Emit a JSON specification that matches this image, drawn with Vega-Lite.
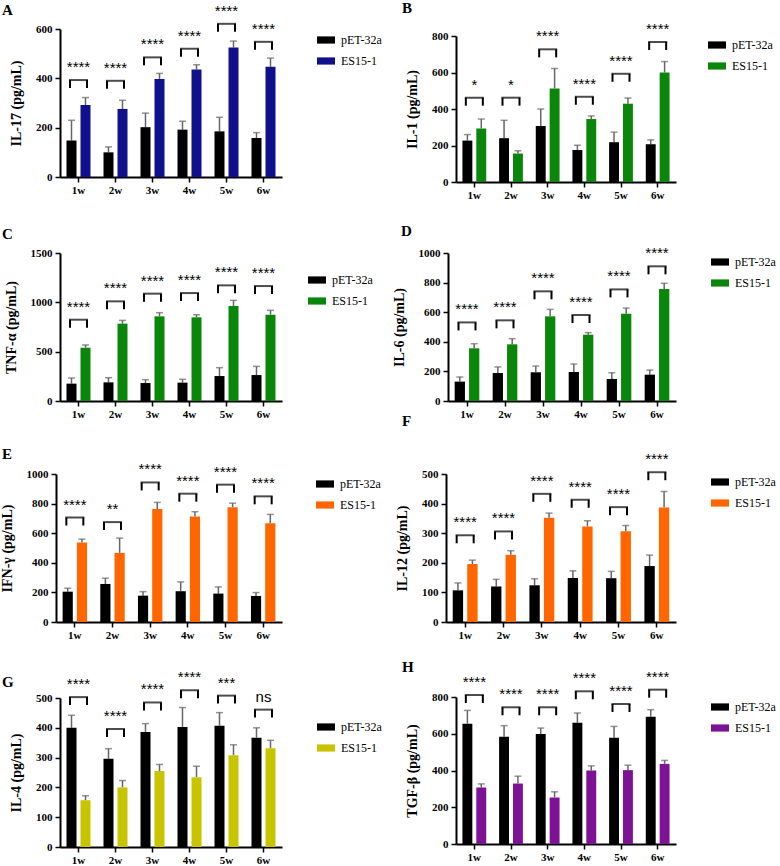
{
"$schema": "https://vega.github.io/schema/vega-lite/v6.json",
"background": "white",
"padding": {"left": 0, "top": 1, "right": 0, "bottom": 0},
"columns": 2,
"spacing": {"row": 71, "column": 164},
"align": "each",
"bounds": "flush",
"resolve": {"scale": {"x": "independent", "y": "independent", "color": "independent", "xOffset": "independent"}, "legend": {"color": "independent"}},
"config": {
 "view": {"stroke": null},
 "font": "Liberation Serif",
 "axis": {"domainColor": "#000", "domainWidth": 2, "tickColor": "#000", "tickWidth": 1.5, "tickSize": 5, "labelFont": "Liberation Serif", "labelFontWeight": "bold", "labelFontSize": 11, "labelColor": "#000", "labelPadding": 3, "labelOverlap": false, "titleFont": "Liberation Serif", "titleFontWeight": "bold", "titleFontSize": 14, "titleColor": "#000", "grid": false, "titlePadding": 12},
 "axisX": {"labelAngle": 0, "labelPadding": 2},
 "axisY": {"format": "d"},
 "legend": {"labelFont": "Liberation Serif", "labelFontSize": 12, "labelColor": "#000", "rowPadding": 6, "labelOffset": 6, "symbolStrokeWidth": 0, "padding": 0},
 "title": {"font": "Liberation Serif", "fontSize": 15, "fontWeight": "bold", "color": "#000"}
},
"datasets": {
 "bars": [
  {"p":"A","w":"1w","g":"pET-32a","m":148,"u":230},{"p":"A","w":"1w","g":"ES15-1","m":292,"u":322},
  {"p":"A","w":"2w","g":"pET-32a","m":100,"u":122},{"p":"A","w":"2w","g":"ES15-1","m":276,"u":311},
  {"p":"A","w":"3w","g":"pET-32a","m":202,"u":259},{"p":"A","w":"3w","g":"ES15-1","m":397,"u":420},
  {"p":"A","w":"4w","g":"pET-32a","m":192,"u":226},{"p":"A","w":"4w","g":"ES15-1","m":436,"u":455},
  {"p":"A","w":"5w","g":"pET-32a","m":185,"u":242},{"p":"A","w":"5w","g":"ES15-1","m":525,"u":551},
  {"p":"A","w":"6w","g":"pET-32a","m":158,"u":180},{"p":"A","w":"6w","g":"ES15-1","m":447,"u":482},
  {"p":"B","w":"1w","g":"pET-32a","m":227,"u":260},{"p":"B","w":"1w","g":"ES15-1","m":293,"u":345},
  {"p":"B","w":"2w","g":"pET-32a","m":240,"u":338},{"p":"B","w":"2w","g":"ES15-1","m":156,"u":171},
  {"p":"B","w":"3w","g":"pET-32a","m":307,"u":400},{"p":"B","w":"3w","g":"ES15-1","m":513,"u":622},
  {"p":"B","w":"4w","g":"pET-32a","m":176,"u":202},{"p":"B","w":"4w","g":"ES15-1","m":345,"u":362},
  {"p":"B","w":"5w","g":"pET-32a","m":218,"u":273},{"p":"B","w":"5w","g":"ES15-1","m":429,"u":460},
  {"p":"B","w":"6w","g":"pET-32a","m":207,"u":231},{"p":"B","w":"6w","g":"ES15-1","m":600,"u":660},
  {"p":"C","w":"1w","g":"pET-32a","m":176,"u":233},{"p":"C","w":"1w","g":"ES15-1","m":540,"u":568},
  {"p":"C","w":"2w","g":"pET-32a","m":189,"u":236},{"p":"C","w":"2w","g":"ES15-1","m":784,"u":817},
  {"p":"C","w":"3w","g":"pET-32a","m":182,"u":216},{"p":"C","w":"3w","g":"ES15-1","m":858,"u":895},
  {"p":"C","w":"4w","g":"pET-32a","m":186,"u":220},{"p":"C","w":"4w","g":"ES15-1","m":848,"u":875},
  {"p":"C","w":"5w","g":"pET-32a","m":253,"u":338},{"p":"C","w":"5w","g":"ES15-1","m":963,"u":1020},
  {"p":"C","w":"6w","g":"pET-32a","m":263,"u":351},{"p":"C","w":"6w","g":"ES15-1","m":875,"u":919},
  {"p":"D","w":"1w","g":"pET-32a","m":131,"u":162},{"p":"D","w":"1w","g":"ES15-1","m":356,"u":387},
  {"p":"D","w":"2w","g":"pET-32a","m":189,"u":230},{"p":"D","w":"2w","g":"ES15-1","m":383,"u":421},
  {"p":"D","w":"3w","g":"pET-32a","m":194,"u":236},{"p":"D","w":"3w","g":"ES15-1","m":572,"u":619},
  {"p":"D","w":"4w","g":"pET-32a","m":196,"u":250},{"p":"D","w":"4w","g":"ES15-1","m":448,"u":462},
  {"p":"D","w":"5w","g":"pET-32a","m":149,"u":191},{"p":"D","w":"5w","g":"ES15-1","m":590,"u":628},
  {"p":"D","w":"6w","g":"pET-32a","m":178,"u":209},{"p":"D","w":"6w","g":"ES15-1","m":757,"u":795},
  {"p":"E","w":"1w","g":"pET-32a","m":205,"u":228},{"p":"E","w":"1w","g":"ES15-1","m":537,"u":560},
  {"p":"E","w":"2w","g":"pET-32a","m":257,"u":296},{"p":"E","w":"2w","g":"ES15-1","m":467,"u":567},
  {"p":"E","w":"3w","g":"pET-32a","m":178,"u":205},{"p":"E","w":"3w","g":"ES15-1","m":763,"u":808},
  {"p":"E","w":"4w","g":"pET-32a","m":208,"u":271},{"p":"E","w":"4w","g":"ES15-1","m":713,"u":745},
  {"p":"E","w":"5w","g":"pET-32a","m":192,"u":237},{"p":"E","w":"5w","g":"ES15-1","m":776,"u":803},
  {"p":"E","w":"6w","g":"pET-32a","m":176,"u":199},{"p":"E","w":"6w","g":"ES15-1","m":668,"u":727},
  {"p":"F","w":"1w","g":"pET-32a","m":107,"u":132},{"p":"F","w":"1w","g":"ES15-1","m":196,"u":209},
  {"p":"F","w":"2w","g":"pET-32a","m":120,"u":144},{"p":"F","w":"2w","g":"ES15-1","m":227,"u":241},
  {"p":"F","w":"3w","g":"pET-32a","m":124,"u":146},{"p":"F","w":"3w","g":"ES15-1","m":352,"u":368},
  {"p":"F","w":"4w","g":"pET-32a","m":149,"u":173},{"p":"F","w":"4w","g":"ES15-1","m":323,"u":342},
  {"p":"F","w":"5w","g":"pET-32a","m":148,"u":171},{"p":"F","w":"5w","g":"ES15-1","m":307,"u":326},
  {"p":"F","w":"6w","g":"pET-32a","m":189,"u":226},{"p":"F","w":"6w","g":"ES15-1","m":387,"u":441},
  {"p":"G","w":"1w","g":"pET-32a","m":400,"u":442},{"p":"G","w":"1w","g":"ES15-1","m":157,"u":172},
  {"p":"G","w":"2w","g":"pET-32a","m":296,"u":330},{"p":"G","w":"2w","g":"ES15-1","m":200,"u":223},
  {"p":"G","w":"3w","g":"pET-32a","m":386,"u":414},{"p":"G","w":"3w","g":"ES15-1","m":255,"u":277},
  {"p":"G","w":"4w","g":"pET-32a","m":403,"u":468},{"p":"G","w":"4w","g":"ES15-1","m":234,"u":271},
  {"p":"G","w":"5w","g":"pET-32a","m":407,"u":451},{"p":"G","w":"5w","g":"ES15-1","m":308,"u":343},
  {"p":"G","w":"6w","g":"pET-32a","m":367,"u":400},{"p":"G","w":"6w","g":"ES15-1","m":331,"u":358},
  {"p":"H","w":"1w","g":"pET-32a","m":655,"u":727},{"p":"H","w":"1w","g":"ES15-1","m":307,"u":327},
  {"p":"H","w":"2w","g":"pET-32a","m":584,"u":644},{"p":"H","w":"2w","g":"ES15-1","m":329,"u":369},
  {"p":"H","w":"3w","g":"pET-32a","m":598,"u":631},{"p":"H","w":"3w","g":"ES15-1","m":253,"u":284},
  {"p":"H","w":"4w","g":"pET-32a","m":660,"u":713},{"p":"H","w":"4w","g":"ES15-1","m":400,"u":425},
  {"p":"H","w":"5w","g":"pET-32a","m":578,"u":640},{"p":"H","w":"5w","g":"ES15-1","m":402,"u":429},
  {"p":"H","w":"6w","g":"pET-32a","m":693,"u":731},{"p":"H","w":"6w","g":"ES15-1","m":436,"u":455}
 ],
 "ann": [
  {"p":"A","w":"1w","yb":393,"s":"****"},{"p":"A","w":"2w","yb":390,"s":"****"},{"p":"A","w":"3w","yb":485,"s":"****"},
  {"p":"A","w":"4w","yb":520,"s":"****"},{"p":"A","w":"5w","yb":621,"s":"****"},{"p":"A","w":"6w","yb":548,"s":"****"},
  {"p":"B","w":"1w","yb":462,"s":"*"},{"p":"B","w":"2w","yb":462,"s":"*"},{"p":"B","w":"3w","yb":727,"s":"****"},
  {"p":"B","w":"4w","yb":467,"s":"****"},{"p":"B","w":"5w","yb":593,"s":"****"},{"p":"B","w":"6w","yb":767,"s":"****"},
  {"p":"C","w":"1w","yb":824,"s":"****"},{"p":"C","w":"2w","yb":1010,"s":"****"},{"p":"C","w":"3w","yb":1088,"s":"****"},
  {"p":"C","w":"4w","yb":1094,"s":"****"},{"p":"C","w":"5w","yb":1172,"s":"****"},{"p":"C","w":"6w","yb":1165,"s":"****"},
  {"p":"D","w":"1w","yb":531,"s":"****"},{"p":"D","w":"2w","yb":545,"s":"****"},{"p":"D","w":"3w","yb":741,"s":"****"},
  {"p":"D","w":"4w","yb":581,"s":"****"},{"p":"D","w":"5w","yb":754,"s":"****"},{"p":"D","w":"6w","yb":910,"s":"****"},
  {"p":"E","w":"1w","yb":706,"s":"****"},{"p":"E","w":"2w","yb":675,"s":"**"},{"p":"E","w":"3w","yb":943,"s":"****"},
  {"p":"E","w":"4w","yb":867,"s":"****"},{"p":"E","w":"5w","yb":928,"s":"****"},{"p":"E","w":"6w","yb":849,"s":"****"},
  {"p":"F","w":"1w","yb":293,"s":"****"},{"p":"F","w":"2w","yb":306,"s":"****"},{"p":"F","w":"3w","yb":433,"s":"****"},
  {"p":"F","w":"4w","yb":413,"s":"****"},{"p":"F","w":"5w","yb":388,"s":"****"},{"p":"F","w":"6w","yb":506,"s":"****"},
  {"p":"G","w":"1w","yb":503,"s":"****"},{"p":"G","w":"2w","yb":396,"s":"****"},{"p":"G","w":"3w","yb":485,"s":"****"},
  {"p":"G","w":"4w","yb":526,"s":"****"},{"p":"G","w":"5w","yb":508,"s":"***"},{"p":"G","w":"6w","yb":461,"s":"ns"},
  {"p":"H","w":"1w","yb":811,"s":"****"},{"p":"H","w":"2w","yb":744,"s":"****"},{"p":"H","w":"3w","yb":744,"s":"****"},
  {"p":"H","w":"4w","yb":831,"s":"****"},{"p":"H","w":"5w","yb":762,"s":"****"},{"p":"H","w":"6w","yb":840,"s":"****"}
 ]
},
"concat": [
 {"width": 226, "height": 148,
  "title": {"text": "A", "anchor": "start", "frame": "group", "dx": -54, "offset": 9, "dy": 23},
  "encoding": {"x": {"field": "w", "type": "nominal", "scale": {"range": [4, 226], "paddingInner": 0, "paddingOuter": 0}, "axis": {"title": null}}},
  "layer": [
   {"data": {"name": "bars"}, "transform": [{"filter": "datum.p === 'A'"}],
    "encoding": {"y": {"field": "m", "type": "quantitative", "title": "IL-17 (pg/mL)", "scale": {"domain": [0, 600], "range": [148, 0], "nice": false}, "axis": {"values": [0, 200, 400, 600], "offset": -4}},
     "xOffset": {"field": "g", "type": "nominal", "scale": {"domain": ["pET-32a", "ES15-1"], "paddingInner": 0.2857, "paddingOuter": 0.464}}},
    "layer": [
     {"mark": {"type": "rule", "color": "#666", "strokeWidth": 1.5}, "encoding": {"y2": {"field": "u"}}},
     {"mark": {"type": "tick", "color": "#666", "thickness": 1.5, "size": 7}, "encoding": {"y": {"field": "u", "type": "quantitative", "title": "IL-17 (pg/mL)", "axis": {"values": [0, 200, 400, 600], "offset": -4}}}},
     {"mark": {"type": "bar"}, "encoding": {"color": {"field": "g", "type": "nominal", "scale": {"domain": ["pET-32a", "ES15-1"], "range": ["#000000", "#10108c"]}, "legend": {"orient": "none", "legendX": 261, "legendY": 2, "title": null, "symbolType": "M-1,-0.4H1V0.4H-1Z", "symbolSize": 324, "labelFont": "Liberation Serif"}}}}
    ]},
   {"data": {"name": "ann"}, "transform": [{"filter": "datum.p === 'A'"}],
    "encoding": {"y": {"field": "yb", "type": "quantitative", "title": "IL-17 (pg/mL)", "axis": {"values": [0, 200, 400, 600], "offset": -4}}},
    "layer": [
     {"mark": {"type": "tick", "color": "#000", "thickness": 2, "size": 19}},
     {"mark": {"type": "rule", "color": "#000", "strokeWidth": 2, "xOffset": -8.5, "y2Offset": 8}, "encoding": {"y2": {"field": "yb"}}},
     {"mark": {"type": "rule", "color": "#000", "strokeWidth": 2, "xOffset": 8.5, "y2Offset": 8}, "encoding": {"y2": {"field": "yb"}}},
     {"mark": {"type": "text", "font": "Liberation Sans", "fontSize": 15, "dy": -8, "baseline": "alphabetic", "color": "#000"}, "encoding": {"text": {"field": "s"}}}
    ]}
  ]},
 {"width": 230, "height": 153,
  "title": {"text": "B", "anchor": "start", "frame": "group", "dx": -44, "offset": 9, "dy": 3},
  "encoding": {"x": {"field": "w", "type": "nominal", "scale": {"range": [10, 230], "paddingInner": 0, "paddingOuter": 0}, "axis": {"title": null}}},
  "layer": [
   {"data": {"name": "bars"}, "transform": [{"filter": "datum.p === 'B'"}],
    "encoding": {"y": {"field": "m", "type": "quantitative", "title": "IL-1 (pg/mL)", "scale": {"domain": [0, 800], "range": [153, 7], "nice": false}, "axis": {"values": [0, 200, 400, 600, 800], "offset": -10}},
     "xOffset": {"field": "g", "type": "nominal", "scale": {"domain": ["pET-32a", "ES15-1"], "paddingInner": 0.2857, "paddingOuter": 0.464}}},
    "layer": [
     {"mark": {"type": "rule", "color": "#666", "strokeWidth": 1.5}, "encoding": {"y2": {"field": "u"}}},
     {"mark": {"type": "tick", "color": "#666", "thickness": 1.5, "size": 7}, "encoding": {"y": {"field": "u", "type": "quantitative", "title": "IL-1 (pg/mL)", "axis": {"values": [0, 200, 400, 600, 800], "offset": -10}}}},
     {"mark": {"type": "bar"}, "encoding": {"color": {"field": "g", "type": "nominal", "scale": {"domain": ["pET-32a", "ES15-1"], "range": ["#000000", "#0a870a"]}, "legend": {"orient": "none", "legendX": 262, "legendY": 7, "title": null, "symbolType": "M-1,-0.4H1V0.4H-1Z", "symbolSize": 324, "labelFont": "Liberation Serif"}}}}
    ]},
   {"data": {"name": "ann"}, "transform": [{"filter": "datum.p === 'B'"}],
    "encoding": {"y": {"field": "yb", "type": "quantitative", "title": "IL-1 (pg/mL)", "axis": {"values": [0, 200, 400, 600, 800], "offset": -10}}},
    "layer": [
     {"mark": {"type": "tick", "color": "#000", "thickness": 2, "size": 19}},
     {"mark": {"type": "rule", "color": "#000", "strokeWidth": 2, "xOffset": -8.5, "y2Offset": 8}, "encoding": {"y2": {"field": "yb"}}},
     {"mark": {"type": "rule", "color": "#000", "strokeWidth": 2, "xOffset": 8.5, "y2Offset": 8}, "encoding": {"y2": {"field": "yb"}}},
     {"mark": {"type": "text", "font": "Liberation Sans", "fontSize": 15, "dy": -8, "baseline": "alphabetic", "color": "#000"}, "encoding": {"text": {"field": "s"}}}
    ]}
  ]},
 {"width": 226, "height": 148,
  "title": {"text": "C", "anchor": "start", "frame": "group", "dx": -54, "offset": 9, "dy": 4},
  "encoding": {"x": {"field": "w", "type": "nominal", "scale": {"range": [4, 226], "paddingInner": 0, "paddingOuter": 0}, "axis": {"title": null}}},
  "layer": [
   {"data": {"name": "bars"}, "transform": [{"filter": "datum.p === 'C'"}],
    "encoding": {"y": {"field": "m", "type": "quantitative", "title": "TNF-α (pg/mL)", "scale": {"domain": [0, 1500], "range": [148, 0], "nice": false}, "axis": {"values": [0, 500, 1000, 1500], "offset": -4}},
     "xOffset": {"field": "g", "type": "nominal", "scale": {"domain": ["pET-32a", "ES15-1"], "paddingInner": 0.2857, "paddingOuter": 0.464}}},
    "layer": [
     {"mark": {"type": "rule", "color": "#666", "strokeWidth": 1.5}, "encoding": {"y2": {"field": "u"}}},
     {"mark": {"type": "tick", "color": "#666", "thickness": 1.5, "size": 7}, "encoding": {"y": {"field": "u", "type": "quantitative", "title": "TNF-α (pg/mL)", "axis": {"values": [0, 500, 1000, 1500], "offset": -4}}}},
     {"mark": {"type": "bar"}, "encoding": {"color": {"field": "g", "type": "nominal", "scale": {"domain": ["pET-32a", "ES15-1"], "range": ["#000000", "#0a870a"]}, "legend": {"orient": "none", "legendX": 252, "legendY": 18, "title": null, "symbolType": "M-1,-0.4H1V0.4H-1Z", "symbolSize": 324, "labelFont": "Liberation Serif"}}}}
    ]},
   {"data": {"name": "ann"}, "transform": [{"filter": "datum.p === 'C'"}],
    "encoding": {"y": {"field": "yb", "type": "quantitative", "title": "TNF-α (pg/mL)", "axis": {"values": [0, 500, 1000, 1500], "offset": -4}}},
    "layer": [
     {"mark": {"type": "tick", "color": "#000", "thickness": 2, "size": 19}},
     {"mark": {"type": "rule", "color": "#000", "strokeWidth": 2, "xOffset": -8.5, "y2Offset": 8}, "encoding": {"y2": {"field": "yb"}}},
     {"mark": {"type": "rule", "color": "#000", "strokeWidth": 2, "xOffset": 8.5, "y2Offset": 8}, "encoding": {"y2": {"field": "yb"}}},
     {"mark": {"type": "text", "font": "Liberation Sans", "fontSize": 15, "dy": -8, "baseline": "alphabetic", "color": "#000"}, "encoding": {"text": {"field": "s"}}}
    ]}
  ]},
 {"width": 230, "height": 148,
  "title": {"text": "D", "anchor": "start", "frame": "group", "dx": -45, "offset": 9, "dy": 1.5},
  "encoding": {"x": {"field": "w", "type": "nominal", "scale": {"range": [2, 230], "paddingInner": 0, "paddingOuter": 0}, "axis": {"title": null}}},
  "layer": [
   {"data": {"name": "bars"}, "transform": [{"filter": "datum.p === 'D'"}],
    "encoding": {"y": {"field": "m", "type": "quantitative", "title": "IL-6 (pg/mL)", "scale": {"domain": [0, 1000], "range": [148, 0], "nice": false}, "axis": {"values": [0, 200, 400, 600, 800, 1000], "offset": -2}},
     "xOffset": {"field": "g", "type": "nominal", "scale": {"domain": ["pET-32a", "ES15-1"], "paddingInner": 0.2857, "paddingOuter": 0.464}}},
    "layer": [
     {"mark": {"type": "rule", "color": "#666", "strokeWidth": 1.5}, "encoding": {"y2": {"field": "u"}}},
     {"mark": {"type": "tick", "color": "#666", "thickness": 1.5, "size": 7}, "encoding": {"y": {"field": "u", "type": "quantitative", "title": "IL-6 (pg/mL)", "axis": {"values": [0, 200, 400, 600, 800, 1000], "offset": -2}}}},
     {"mark": {"type": "bar"}, "encoding": {"color": {"field": "g", "type": "nominal", "scale": {"domain": ["pET-32a", "ES15-1"], "range": ["#000000", "#0a870a"]}, "legend": {"orient": "none", "legendX": 265, "legendY": 0, "title": null, "symbolType": "M-1,-0.4H1V0.4H-1Z", "symbolSize": 324, "labelFont": "Liberation Serif"}}}}
    ]},
   {"data": {"name": "ann"}, "transform": [{"filter": "datum.p === 'D'"}],
    "encoding": {"y": {"field": "yb", "type": "quantitative", "title": "IL-6 (pg/mL)", "axis": {"values": [0, 200, 400, 600, 800, 1000], "offset": -2}}},
    "layer": [
     {"mark": {"type": "tick", "color": "#000", "thickness": 2, "size": 19}},
     {"mark": {"type": "rule", "color": "#000", "strokeWidth": 2, "xOffset": -8.5, "y2Offset": 8}, "encoding": {"y2": {"field": "yb"}}},
     {"mark": {"type": "rule", "color": "#000", "strokeWidth": 2, "xOffset": 8.5, "y2Offset": 8}, "encoding": {"y2": {"field": "yb"}}},
     {"mark": {"type": "text", "font": "Liberation Sans", "fontSize": 15, "dy": -8, "baseline": "alphabetic", "color": "#000"}, "encoding": {"text": {"field": "s"}}}
    ]}
  ]},
 {"width": 226, "height": 150,
  "title": {"text": "E", "anchor": "start", "frame": "group", "dx": -54, "offset": 9, "dy": 9},
  "encoding": {"x": {"field": "w", "type": "nominal", "scale": {"range": [0, 226], "paddingInner": 0, "paddingOuter": 0}, "axis": {"title": null}}},
  "layer": [
   {"data": {"name": "bars"}, "transform": [{"filter": "datum.p === 'E'"}],
    "encoding": {"y": {"field": "m", "type": "quantitative", "title": "IFN-γ (pg/mL)", "scale": {"domain": [0, 1000], "range": [150, 2], "nice": false}, "axis": {"values": [0, 200, 400, 600, 800, 1000]}},
     "xOffset": {"field": "g", "type": "nominal", "scale": {"domain": ["pET-32a", "ES15-1"], "paddingInner": 0.2857, "paddingOuter": 0.464}}},
    "layer": [
     {"mark": {"type": "rule", "color": "#666", "strokeWidth": 1.5}, "encoding": {"y2": {"field": "u"}}},
     {"mark": {"type": "tick", "color": "#666", "thickness": 1.5, "size": 7}, "encoding": {"y": {"field": "u", "type": "quantitative", "title": "IFN-γ (pg/mL)", "axis": {"values": [0, 200, 400, 600, 800, 1000]}}}},
     {"mark": {"type": "bar"}, "encoding": {"color": {"field": "g", "type": "nominal", "scale": {"domain": ["pET-32a", "ES15-1"], "range": ["#000000", "#ff6600"]}, "legend": {"orient": "none", "legendX": 260, "legendY": 3, "title": null, "symbolType": "M-1,-0.4H1V0.4H-1Z", "symbolSize": 324, "labelFont": "Liberation Serif"}}}}
    ]},
   {"data": {"name": "ann"}, "transform": [{"filter": "datum.p === 'E'"}],
    "encoding": {"y": {"field": "yb", "type": "quantitative", "title": "IFN-γ (pg/mL)", "axis": {"values": [0, 200, 400, 600, 800, 1000]}}},
    "layer": [
     {"mark": {"type": "tick", "color": "#000", "thickness": 2, "size": 19}},
     {"mark": {"type": "rule", "color": "#000", "strokeWidth": 2, "xOffset": -8.5, "y2Offset": 8}, "encoding": {"y2": {"field": "yb"}}},
     {"mark": {"type": "rule", "color": "#000", "strokeWidth": 2, "xOffset": 8.5, "y2Offset": 8}, "encoding": {"y2": {"field": "yb"}}},
     {"mark": {"type": "text", "font": "Liberation Sans", "fontSize": 15, "dy": -8, "baseline": "alphabetic", "color": "#000"}, "encoding": {"text": {"field": "s"}}}
    ]}
  ]},
 {"width": 230, "height": 150,
  "title": {"text": "F", "anchor": "start", "frame": "group", "dx": -44, "offset": 9, "dy": -14},
  "encoding": {"x": {"field": "w", "type": "nominal", "scale": {"range": [0, 230], "paddingInner": 0, "paddingOuter": 0}, "axis": {"title": null}}},
  "layer": [
   {"data": {"name": "bars"}, "transform": [{"filter": "datum.p === 'F'"}],
    "encoding": {"y": {"field": "m", "type": "quantitative", "title": "IL-12 (pg/mL)", "scale": {"domain": [0, 500], "range": [150, 2], "nice": false}, "axis": {"values": [0, 100, 200, 300, 400, 500]}},
     "xOffset": {"field": "g", "type": "nominal", "scale": {"domain": ["pET-32a", "ES15-1"], "paddingInner": 0.2857, "paddingOuter": 0.464}}},
    "layer": [
     {"mark": {"type": "rule", "color": "#666", "strokeWidth": 1.5}, "encoding": {"y2": {"field": "u"}}},
     {"mark": {"type": "tick", "color": "#666", "thickness": 1.5, "size": 7}, "encoding": {"y": {"field": "u", "type": "quantitative", "title": "IL-12 (pg/mL)", "axis": {"values": [0, 100, 200, 300, 400, 500]}}}},
     {"mark": {"type": "bar"}, "encoding": {"color": {"field": "g", "type": "nominal", "scale": {"domain": ["pET-32a", "ES15-1"], "range": ["#000000", "#ff6600"]}, "legend": {"orient": "none", "legendX": 265, "legendY": 1, "title": null, "symbolType": "M-1,-0.4H1V0.4H-1Z", "symbolSize": 324, "labelFont": "Liberation Serif"}}}}
    ]},
   {"data": {"name": "ann"}, "transform": [{"filter": "datum.p === 'F'"}],
    "encoding": {"y": {"field": "yb", "type": "quantitative", "title": "IL-12 (pg/mL)", "axis": {"values": [0, 100, 200, 300, 400, 500]}}},
    "layer": [
     {"mark": {"type": "tick", "color": "#000", "thickness": 2, "size": 19}},
     {"mark": {"type": "rule", "color": "#000", "strokeWidth": 2, "xOffset": -8.5, "y2Offset": 8}, "encoding": {"y2": {"field": "yb"}}},
     {"mark": {"type": "rule", "color": "#000", "strokeWidth": 2, "xOffset": 8.5, "y2Offset": 8}, "encoding": {"y2": {"field": "yb"}}},
     {"mark": {"type": "text", "font": "Liberation Sans", "fontSize": 15, "dy": -8, "baseline": "alphabetic", "color": "#000"}, "encoding": {"text": {"field": "s"}}}
    ]}
  ]},
 {"width": 226, "height": 154,
  "title": {"text": "G", "anchor": "start", "frame": "group", "dx": -54, "offset": 9, "dy": 29},
  "encoding": {"x": {"field": "w", "type": "nominal", "scale": {"range": [4, 226], "paddingInner": 0, "paddingOuter": 0}, "axis": {"title": null}}},
  "layer": [
   {"data": {"name": "bars"}, "transform": [{"filter": "datum.p === 'G'"}],
    "encoding": {"y": {"field": "m", "type": "quantitative", "title": "IL-4 (pg/mL)", "scale": {"domain": [0, 500], "range": [154, 5], "nice": false}, "axis": {"values": [0, 100, 200, 300, 400, 500], "offset": -4}},
     "xOffset": {"field": "g", "type": "nominal", "scale": {"domain": ["pET-32a", "ES15-1"], "paddingInner": 0.2857, "paddingOuter": 0.464}}},
    "layer": [
     {"mark": {"type": "rule", "color": "#666", "strokeWidth": 1.5}, "encoding": {"y2": {"field": "u"}}},
     {"mark": {"type": "tick", "color": "#666", "thickness": 1.5, "size": 7}, "encoding": {"y": {"field": "u", "type": "quantitative", "title": "IL-4 (pg/mL)", "axis": {"values": [0, 100, 200, 300, 400, 500], "offset": -4}}}},
     {"mark": {"type": "bar"}, "encoding": {"color": {"field": "g", "type": "nominal", "scale": {"domain": ["pET-32a", "ES15-1"], "range": ["#000000", "#c9c400"]}, "legend": {"orient": "none", "legendX": 261, "legendY": 25, "title": null, "symbolType": "M-1,-0.4H1V0.4H-1Z", "symbolSize": 324, "labelFont": "Liberation Serif"}}}}
    ]},
   {"data": {"name": "ann"}, "transform": [{"filter": "datum.p === 'G'"}],
    "encoding": {"y": {"field": "yb", "type": "quantitative", "title": "IL-4 (pg/mL)", "axis": {"values": [0, 100, 200, 300, 400, 500], "offset": -4}}},
    "layer": [
     {"mark": {"type": "tick", "color": "#000", "thickness": 2, "size": 19}},
     {"mark": {"type": "rule", "color": "#000", "strokeWidth": 2, "xOffset": -8.5, "y2Offset": 8}, "encoding": {"y2": {"field": "yb"}}},
     {"mark": {"type": "rule", "color": "#000", "strokeWidth": 2, "xOffset": 8.5, "y2Offset": 8}, "encoding": {"y2": {"field": "yb"}}},
     {"mark": {"type": "text", "font": "Liberation Sans", "fontSize": 15, "dy": -8, "baseline": "alphabetic", "color": "#000"}, "encoding": {"text": {"field": "s"}}}
    ]}
  ]},
 {"width": 230, "height": 151,
  "title": {"text": "H", "anchor": "start", "frame": "group", "dx": -44, "offset": 9, "dy": 14},
  "encoding": {"x": {"field": "w", "type": "nominal", "scale": {"range": [10, 230], "paddingInner": 0, "paddingOuter": 0}, "axis": {"title": null}}},
  "layer": [
   {"data": {"name": "bars"}, "transform": [{"filter": "datum.p === 'H'"}],
    "encoding": {"y": {"field": "m", "type": "quantitative", "title": "TGF-β (pg/mL)", "scale": {"domain": [0, 800], "range": [151, 4], "nice": false}, "axis": {"values": [0, 200, 400, 600, 800], "offset": -10}},
     "xOffset": {"field": "g", "type": "nominal", "scale": {"domain": ["pET-32a", "ES15-1"], "paddingInner": 0.2857, "paddingOuter": 0.464}}},
    "layer": [
     {"mark": {"type": "rule", "color": "#666", "strokeWidth": 1.5}, "encoding": {"y2": {"field": "u"}}},
     {"mark": {"type": "tick", "color": "#666", "thickness": 1.5, "size": 7}, "encoding": {"y": {"field": "u", "type": "quantitative", "title": "TGF-β (pg/mL)", "axis": {"values": [0, 200, 400, 600, 800], "offset": -10}}}},
     {"mark": {"type": "bar"}, "encoding": {"color": {"field": "g", "type": "nominal", "scale": {"domain": ["pET-32a", "ES15-1"], "range": ["#000000", "#7d1295"]}, "legend": {"orient": "none", "legendX": 265, "legendY": 5, "title": null, "symbolType": "M-1,-0.4H1V0.4H-1Z", "symbolSize": 324, "labelFont": "Liberation Serif"}}}}
    ]},
   {"data": {"name": "ann"}, "transform": [{"filter": "datum.p === 'H'"}],
    "encoding": {"y": {"field": "yb", "type": "quantitative", "title": "TGF-β (pg/mL)", "axis": {"values": [0, 200, 400, 600, 800], "offset": -10}}},
    "layer": [
     {"mark": {"type": "tick", "color": "#000", "thickness": 2, "size": 19}},
     {"mark": {"type": "rule", "color": "#000", "strokeWidth": 2, "xOffset": -8.5, "y2Offset": 8}, "encoding": {"y2": {"field": "yb"}}},
     {"mark": {"type": "rule", "color": "#000", "strokeWidth": 2, "xOffset": 8.5, "y2Offset": 8}, "encoding": {"y2": {"field": "yb"}}},
     {"mark": {"type": "text", "font": "Liberation Sans", "fontSize": 15, "dy": -8, "baseline": "alphabetic", "color": "#000"}, "encoding": {"text": {"field": "s"}}}
    ]}
  ]}
]
}
